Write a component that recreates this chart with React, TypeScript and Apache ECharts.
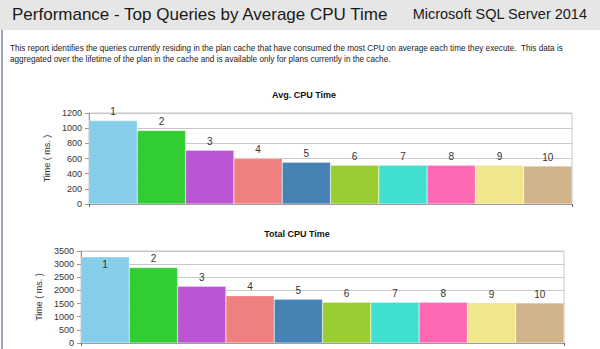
import React, { useEffect, useRef } from "react";
import * as echarts from "echarts";

const queryIds = ["1", "2", "3", "4", "5", "6", "7", "8", "9", "10"];
const avgCpu = [1100, 970, 710, 600, 550, 510, 510, 510, 510, 500];
const totalCpu = [3280, 2870, 2160, 1800, 1660, 1550, 1550, 1550, 1520, 1510];
const barColors = [
  "#87CEEB", "#32CD32", "#BA55D3", "#F08080", "#4682B4",
  "#9ACD32", "#40E0D0", "#FF69B4", "#F0E68C", "#D2B48C",
];
const reportTitle = "Performance - Top Queries by Average CPU Time";
const productName = "Microsoft SQL Server 2014";
const descLine1 =
  "This report identifies the queries currently residing in the plan cache that have consumed the most CPU on average each time they execute.  This data is";
const descLine2 =
  "aggregated over the lifetime of the plan in the cache and is available only for plans currently in the cache.";
const chart1Title = "Avg. CPU Time";
const chart2Title = "Total CPU Time";
const axisName = "Time ( ms. )";

const FONT = "Liberation Sans, Arial, sans-serif";

function makeData(values: number[], insideFirst: boolean) {
  return values.map((v, i) => {
    const d: any = { value: v, itemStyle: { color: barColors[i] } };
    if (insideFirst && i === 0) {
      d.label = { position: "insideTop", distance: 3 };
    }
    return d;
  });
}

export default function App() {
  const ref = useRef<HTMLDivElement>(null);
  useEffect(() => {
    if (!ref.current) return;
    const chart = echarts.init(ref.current, undefined, { renderer: "svg" });
    const yAxisCommon = (max: number, interval: number) => ({
      type: "value",
      min: 0,
      max,
      interval,
      name: axisName,
      nameLocation: "middle",
      nameGap: 27,
      nameTextStyle: { fontFamily: FONT, fontSize: 9, color: "#333" },
      axisLine: { show: true, lineStyle: { color: "#999" } },
      axisTick: { show: true, length: 4, lineStyle: { color: "#999" } },
      axisLabel: {
        fontFamily: FONT, fontSize: 9, color: "#333", margin: 7,
        formatter: (v: number) => String(v),
      },
      splitLine: { show: true, lineStyle: { color: "#c8c8c8" } },
    });
    const xAxisCommon = {
      type: "category",
      data: queryIds,
      axisLine: { show: true, lineStyle: { color: "#999" } },
      axisTick: {
        show: true,
        length: 3,
        interval: (idx: number) => idx === 5,
        lineStyle: { color: "#666" },
      },
      axisLabel: { show: false },
    };
    const labelCommon = {
      show: true,
      position: "top",
      distance: 4,
      fontFamily: FONT,
      fontSize: 10,
      color: "#333",
      formatter: (p: any) => queryIds[p.dataIndex],
    };
    chart.setOption({
      animation: false,
      backgroundColor: "#ffffff",
      graphic: [
        { type: "rect", shape: { x: 0, y: 0, width: 600, height: 30 }, style: { fill: "#e6e6e6" } },
        { type: "rect", shape: { x: 1, y: 30, width: 2, height: 319 }, style: { fill: "#9aa6b8" } },
        {
          type: "text", x: 12, y: 14,
          style: { text: reportTitle, fontFamily: FONT, fontSize: 17, fill: "#1a1a1a", verticalAlign: "middle", align: "left" },
        },
        {
          type: "text", x: 587, y: 14,
          style: { text: productName, fontFamily: FONT, fontSize: 14.5, fill: "#1a1a1a", verticalAlign: "middle", align: "right" },
        },
        {
          type: "text", x: 10, y: 48,
          style: { text: descLine1, fontFamily: FONT, fontSize: 8.2, fill: "#222", verticalAlign: "middle" },
        },
        {
          type: "text", x: 10, y: 59,
          style: { text: descLine2, fontFamily: FONT, fontSize: 8.2, fill: "#222", verticalAlign: "middle" },
        },
      ],
      title: [
        {
          text: chart1Title, left: 304, top: 90, textAlign: "center", padding: 0,
          textStyle: { fontFamily: FONT, fontSize: 9, fontWeight: "bold", color: "#111" },
        },
        {
          text: chart2Title, left: 297, top: 229, textAlign: "center", padding: 0,
          textStyle: { fontFamily: FONT, fontSize: 9, fontWeight: "bold", color: "#111" },
        },
      ],
      grid: [
        { left: 89, top: 113, width: 483, height: 91, show: true, borderColor: "#c8c8c8", borderWidth: 1, backgroundColor: "transparent" },
        { left: 81, top: 251, width: 483, height: 92, show: true, borderColor: "#c8c8c8", borderWidth: 1, backgroundColor: "transparent" },
      ],
      xAxis: [
        { ...xAxisCommon, gridIndex: 0 },
        { ...xAxisCommon, gridIndex: 1 },
      ],
      yAxis: [
        { ...yAxisCommon(1200, 200), gridIndex: 0 },
        { ...yAxisCommon(3500, 500), gridIndex: 1 },
      ],
      series: [
        {
          type: "bar", xAxisIndex: 0, yAxisIndex: 0, barWidth: "100%", barGap: "0%",
          data: makeData(avgCpu, false),
          label: labelCommon,
          itemStyle: { borderColor: "rgba(255,255,255,0.5)", borderWidth: 0.5 },
        },
        {
          type: "bar", xAxisIndex: 1, yAxisIndex: 1, barWidth: "100%", barGap: "0%",
          data: makeData(totalCpu, true),
          label: labelCommon,
          itemStyle: { borderColor: "rgba(255,255,255,0.5)", borderWidth: 0.5 },
        },
      ],
    });
    return () => chart.dispose();
  }, []);
  return (
    <div
      ref={ref}
      style={{ position: "fixed", left: 0, top: 0, width: 600, height: 349 }}
    />
  );
}
